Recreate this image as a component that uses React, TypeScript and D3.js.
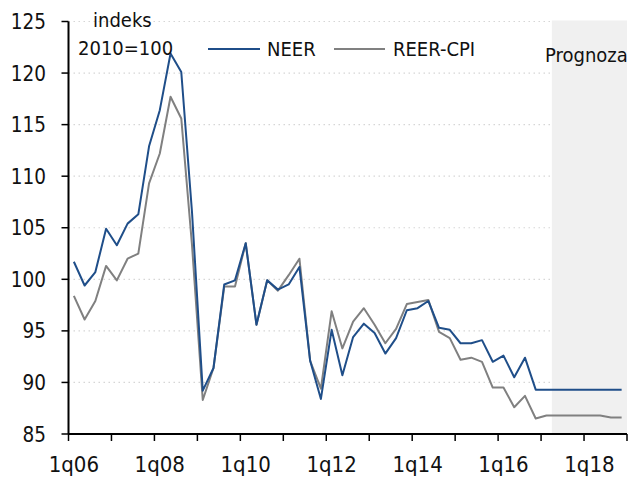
import React from "react";
import * as d3 from "d3";

const years = ["06","07","08","09","10","11","12","13","14","15","16","17","18"];
const quarters: string[] = years.flatMap((y) => ["1q", "2q", "3q", "4q"].map((q) => q + y));

const neer = [
  101.7, 99.4, 100.7, 104.9, 103.3, 105.4, 106.3, 112.9, 116.4, 121.9, 120.1, 106.5,
  89.2, 91.4, 99.5, 99.9, 103.5, 95.6, 99.9, 99.0, 99.5, 101.2, 92.1, 88.4,
  95.1, 90.7, 94.4, 95.7, 94.8, 92.8, 94.3, 97.0, 97.2, 97.9, 95.3, 95.1,
  93.8, 93.8, 94.1, 92.0, 92.6, 90.5, 92.4, 89.3, 89.3, 89.3, 89.3, 89.3,
  89.3, 89.3, 89.3, 89.3,
];
const reer = [
  98.4, 96.1, 97.9, 101.3, 99.9, 102.0, 102.5, 109.3, 112.2, 117.7, 115.6, 103.3,
  88.3, 91.4, 99.3, 99.3, 103.5, 95.6, 99.9, 98.9, 100.4, 102.0, 92.1, 89.4,
  96.9, 93.3, 95.9, 97.2, 95.6, 93.8, 95.2, 97.6, 97.8, 98.0, 94.9, 94.3,
  92.2, 92.4, 92.0, 89.5, 89.5, 87.6, 88.7, 86.5, 86.8, 86.8, 86.8, 86.8,
  86.8, 86.8, 86.6, 86.6,
];
const yTicks = [85, 90, 95, 100, 105, 110, 115, 120, 125];
const xLabels = ["1q06", "1q08", "1q10", "1q12", "1q14", "1q16", "1q18"];
const forecastStart = "2q17";
const seriesNames = ["NEER", "REER-CPI"];
const unitLines = ["indeks", "2010=100"];
const forecastLabel = "Prognoza";

const FONT = "'Liberation Sans Narrow', 'DejaVu Sans Condensed', 'Liberation Sans', sans-serif";

export default function App() {
  const W = 635, H = 479;
  const left = 68.5, right = 627, top = 21.5, bottom = 434;
  const x = d3.scaleBand<string>().domain(quarters).range([left, right]).padding(0);
  const y = d3.scaleLinear().domain([85, 125]).range([bottom, top]);
  const cx = (q: string) => (x(q) as number) + x.bandwidth() / 2;
  const line = d3
    .line<number>()
    .x((_, i) => cx(quarters[i]))
    .y((d) => y(d));
  const tickPos: number[] = [];
  quarters.forEach((q, i) => {
    if (i % 4 === 0) tickPos.push(x(q) as number);
  });
  tickPos.push(right);
  const fx = x(forecastStart) as number;

  return (
    <svg width={W} height={H} style={{ position: "absolute", left: 0, top: 0 }} fontFamily={FONT}>
      {yTicks.filter((t) => t > 85).map((t) => (
        <line key={"g" + t} x1={left} x2={fx} y1={y(t)} y2={y(t)} stroke="#d6d6d6" strokeWidth={1.2} strokeDasharray="1.5,3.5" />
      ))}
      <rect x={fx} y={top - 1} width={right - fx} height={bottom - top + 1} fill="#f0f0f0" />
      <text x={545} y={62} fontSize={20} fill="#111">{forecastLabel}</text>
      <path d={line(reer) || ""} fill="none" stroke="#808080" strokeWidth={2} strokeLinejoin="round" />
      <path d={line(neer) || ""} fill="none" stroke="#1F4E89" strokeWidth={2} strokeLinejoin="round" />
      {/* y axis */}
      <line x1={left} x2={left} y1={top} y2={bottom} stroke="#000" strokeWidth={2} />
      {yTicks.map((t) => (
        <g key={"y" + t}>
          <line x1={left - 7} x2={left} y1={y(t)} y2={y(t)} stroke="#000" strokeWidth={1.5} />
          <text x={46} y={y(t) + 7.5} textAnchor="end" fontSize={20.5} fill="#111">{t}</text>
        </g>
      ))}
      {/* x axis */}
      <line x1={left} x2={right} y1={bottom} y2={bottom} stroke="#000" strokeWidth={2} />
      {tickPos.map((p, i) => (
        <line key={"xt" + i} x1={p} x2={p} y1={bottom} y2={bottom + 7} stroke="#000" strokeWidth={1.5} />
      ))}
      {xLabels.map((l) => (
        <text key={l} x={cx(l)} y={472} textAnchor="middle" fontSize={22} fill="#111">{l}</text>
      ))}
      {/* legend */}
      <text x={93} y={27} fontSize={20} fill="#111">{unitLines[0]}</text>
      <text x={78} y={55} fontSize={20} fill="#111">{unitLines[1]}</text>
      <line x1={208} x2={260} y1={49} y2={49} stroke="#1F4E89" strokeWidth={2} />
      <text x={267} y={56} fontSize={20} fill="#111">{seriesNames[0]}</text>
      <line x1={334} x2={385} y1={49} y2={49} stroke="#808080" strokeWidth={2} />
      <text x={393} y={56} fontSize={20} fill="#111">{seriesNames[1]}</text>
    </svg>
  );
}
